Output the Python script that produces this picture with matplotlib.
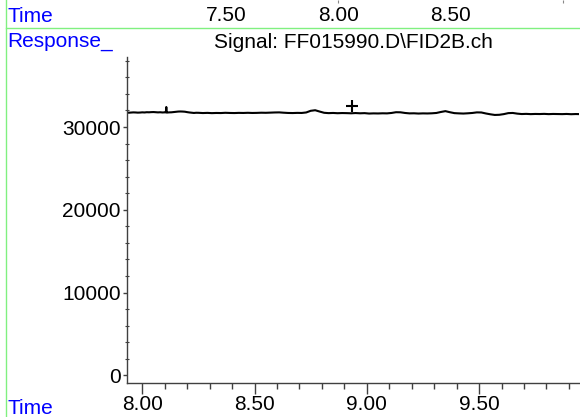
import matplotlib
matplotlib.use("Agg")
import matplotlib.pyplot as plt
from matplotlib.ticker import MultipleLocator, FixedLocator
from matplotlib.lines import Line2D
import matplotlib.transforms as mtransforms

plt.rcParams['font.family'] = ['Liberation Sans', 'DejaVu Sans']

# ---- data ----
title = "Signal: FF015990.D\\FID2B.ch"
x_label = "Time"
y_label = "Response_"
top_tick_values = [7.50, 8.00, 8.50]
top_tick_labels = ["7.50", "8.00", "8.50"]
bottom_tick_values = [8.00, 8.50, 9.00, 9.50]
bottom_tick_labels = ["8.00", "8.50", "9.00", "9.50"]
y_tick_values = [0, 10000, 20000, 30000]
y_tick_labels = ["0", "10000", "20000", "30000"]

time = [7.93, 7.94, 7.95, 7.96, 7.97, 7.98, 7.99, 8.00, 8.01, 8.02, 8.03, 8.04,
        8.05, 8.06, 8.07, 8.08, 8.09, 8.10, 8.105, 8.107, 8.109, 8.11, 8.12, 8.13,
        8.14, 8.15, 8.16, 8.17, 8.18, 8.19, 8.20, 8.21, 8.22, 8.23, 8.24, 8.25,
        8.27, 8.29, 8.31, 8.33, 8.35, 8.37, 8.39, 8.41, 8.43, 8.45, 8.47, 8.49,
        8.51, 8.53, 8.55, 8.57, 8.59, 8.61, 8.63, 8.65, 8.67, 8.69, 8.71, 8.73,
        8.75, 8.77, 8.79, 8.81, 8.83, 8.85, 8.87, 8.89, 8.91, 8.93, 8.95, 8.97,
        8.99, 9.01, 9.03, 9.05, 9.07, 9.09, 9.11, 9.13, 9.15, 9.17, 9.19, 9.21,
        9.23, 9.25, 9.27, 9.29, 9.31, 9.33, 9.35, 9.37, 9.39, 9.41, 9.43, 9.45,
        9.47, 9.49, 9.51, 9.53, 9.55, 9.57, 9.59, 9.61, 9.63, 9.65, 9.67, 9.69,
        9.71, 9.73, 9.75, 9.77, 9.79, 9.81, 9.83, 9.85, 9.87, 9.89, 9.91, 9.93,
        9.95]
response = [31760, 31730, 31750, 31770, 31760, 31740, 31750, 31775, 31760, 31790, 31780, 31800,
            31810, 31790, 31770, 31785, 31760, 31775, 31770, 32420, 31770, 31750, 31770, 31780,
            31810, 31840, 31870, 31880, 31870, 31850, 31800, 31760, 31730, 31700, 31725, 31720,
            31690, 31710, 31680, 31700, 31690, 31720, 31700, 31690, 31710, 31700, 31720, 31700,
            31710, 31730, 31720, 31740, 31760, 31770, 31730, 31700, 31690, 31710, 31700, 31760,
            31960, 32030, 31870, 31720, 31680, 31700, 31670, 31690, 31680, 31660, 31690, 31660,
            31680, 31630, 31650, 31640, 31660, 31650, 31700, 31790, 31780, 31700, 31650, 31660,
            31630, 31650, 31640, 31660, 31700, 31820, 31920, 31790, 31680, 31650, 31630, 31660,
            31700, 31770, 31760, 31640, 31540, 31460, 31480, 31560, 31680, 31700, 31620, 31570,
            31590, 31560, 31580, 31570, 31590, 31560, 31580, 31570, 31560, 31580, 31550, 31570,
            31560]
marker_time = [8.934]
marker_response = [32600]

W, H = 580, 417
fig = plt.figure(figsize=(W / 100, H / 100), dpi=100)
FS = 15

def fx(px):
    return px / W

def fy(py):
    return 1 - py / H

axis_color = '#404040'

# main axes
ax = fig.add_axes([fx(127), fy(382.7), fx(579) - fx(127), fy(56.7) - fy(382.7)])
ax.plot(time, response, color='black', lw=1.5, solid_joinstyle='round')
ax.plot(marker_time, marker_response, linestyle='none', marker='+', color='black',
        markersize=9, markeredgewidth=1.5)
ax.set_xlim(7.932, 9.945)
ax.set_ylim(-900, 38500)
for s in ['top', 'right']:
    ax.spines[s].set_visible(False)
for s in ['left', 'bottom']:
    ax.spines[s].set_color(axis_color)
    ax.spines[s].set_linewidth(1.0)

ax.xaxis.set_major_locator(FixedLocator(bottom_tick_values))
ax.set_xticklabels(bottom_tick_labels)
ax.xaxis.set_minor_locator(MultipleLocator(0.1))
ax.yaxis.set_major_locator(FixedLocator(y_tick_values))
ax.set_yticklabels(y_tick_labels)
ax.yaxis.set_minor_locator(MultipleLocator(2000))

ax.tick_params(axis='x', which='major', direction='out', length=7.9, width=1.0,
               color=axis_color, labelsize=FS, pad=1)
ax.tick_params(axis='x', which='minor', direction='out', length=4.3, width=1.0,
               color=axis_color)
ax.tick_params(axis='y', which='major', direction='out', length=3, width=1.0,
               color=axis_color, labelsize=FS, pad=1.5)
ax.tick_params(axis='y', which='minor', direction='inout', length=3, width=0.8,
               color=axis_color)

# top strip: previous panel's time scale
ax_top = fig.add_axes([fx(127), fy(3), fx(579) - fx(127), fy(0) - fy(3)])
ax_top.set_xlim(7.060, 9.073)
ax_top.set_ylim(0, 1)
for s in ax_top.spines.values():
    s.set_visible(False)
ax_top.set_yticks([])
ax_top.xaxis.set_major_locator(FixedLocator([8.0, 9.0]))
ax_top.set_xticklabels([])
ax_top.tick_params(axis='x', direction='in', length=2, width=0.8, color='#888888')
trans = mtransforms.blended_transform_factory(ax_top.transData, fig.transFigure)
for v, lab in zip(top_tick_values, top_tick_labels):
    ax_top.text(v, fy(21), lab, transform=trans, ha='center', va='baseline',
                fontsize=FS, color='black')

# texts
blue = '#0000ff'
fig.text(fx(7), fy(22.5), x_label, color=blue, fontsize=FS, ha='left', va='baseline')
fig.text(fx(7), fy(47), y_label, color=blue, fontsize=FS, ha='left', va='baseline')
fig.text(fx(7), fy(414), x_label, color=blue, fontsize=FS, ha='left', va='baseline')
fig.text(fx(353), fy(48), title, color='black', fontsize=FS, ha='center', va='baseline')

# green frame lines
green = '#80f080'
fig.add_artist(Line2D([fx(6), fx(6)], [0, 1], transform=fig.transFigure,
                      color=green, lw=1.0))
fig.add_artist(Line2D([fx(6), 1], [fy(28), fy(28)], transform=fig.transFigure,
                      color=green, lw=1.0))

fig.savefig('out.png', dpi=100)
